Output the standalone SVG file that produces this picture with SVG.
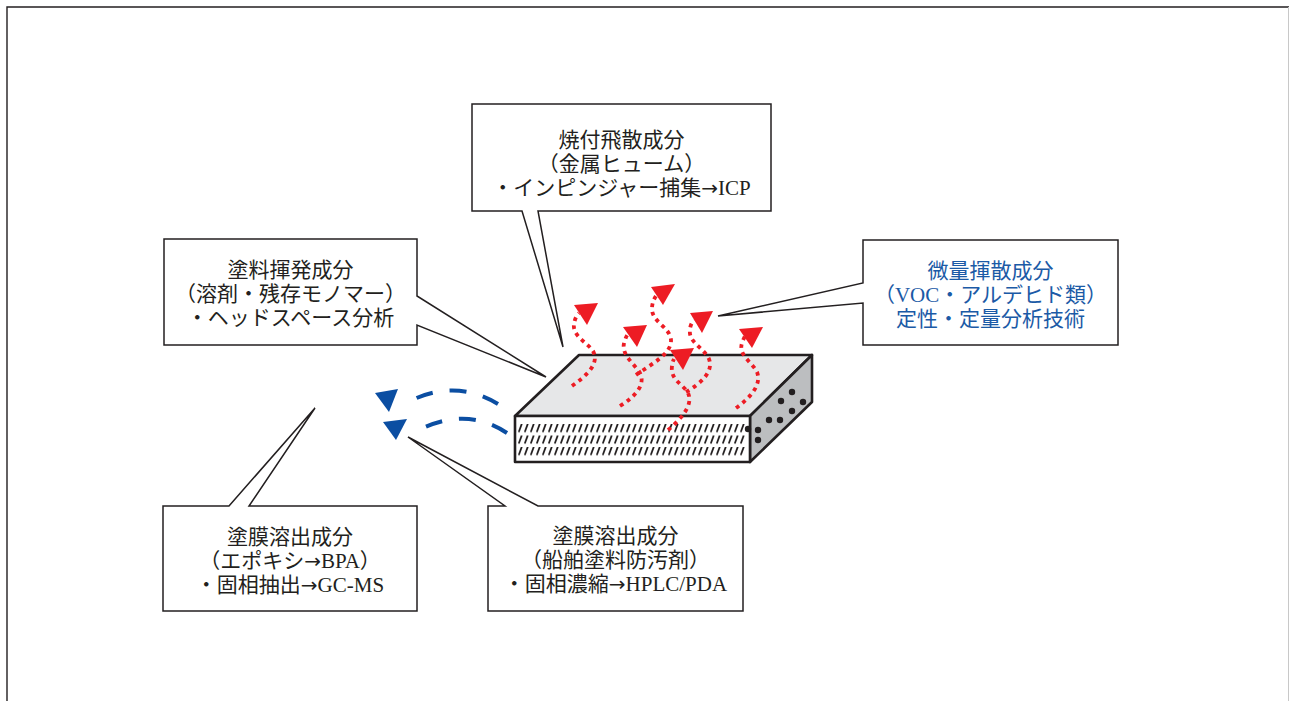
<svg xmlns="http://www.w3.org/2000/svg" width="1291" height="701" viewBox="0 0 1291 701">
  <style>
    .frame { fill: none; stroke: #231f20; stroke-width: 1.4; }
    .callout { fill: #ffffff; stroke: #231f20; stroke-width: 1.5; stroke-linejoin: miter; }
    .label { font-family: "Liberation Serif", "Noto Sans CJK JP", serif; font-size: 21px; fill: #231f20; text-anchor: middle; }
    .label.blue { fill: #1b5aa6; }
    .arrow { font-family: "DejaVu Sans", sans-serif; font-size: 20px; }
    .edge { stroke: #231f20; stroke-width: 2.6; stroke-linejoin: round; }
    .vapor { fill: none; stroke: #ed1c24; stroke-width: 3.8; stroke-dasharray: 3.8 4.4; }
    .vaporhead { fill: #ed1c24; }
    .leach { fill: none; stroke: #0b4ea2; stroke-width: 4; stroke-dasharray: 17 17; }
    .leachhead { fill: #0b4ea2; }
    .dot { fill: #231f20; }
  </style>
  <defs>
    <!-- slanted slots on the front face of the coated panel -->
    <pattern id="slots" patternUnits="userSpaceOnUse" x="518" y="424" width="6" height="11.5">
      <line x1="1" y1="7.4" x2="3.6" y2="0.4" stroke="#231f20" stroke-width="1.8" stroke-linecap="round"/>
    </pattern>
  </defs>

  <!-- page frame -->
  <path class="frame" d="M7,701 V7 H1289"/>
  <line x1="1288.5" y1="7" x2="1288.5" y2="701" stroke="#c8c8c8" stroke-width="1"/>

  <!-- coated panel -->
  <g id="panel">
    <polygon class="edge" fill="#e6e7e8" points="515,416 579,355 812,355 750,416"/>
    <polygon class="edge" fill="#bcbec0" points="750,416 812,355 812,402 750,462"/>
    <rect class="edge" fill="#ffffff" x="515" y="416" width="235" height="46"/>
    <rect x="518" y="424" width="227" height="32" fill="url(#slots)"/>
    <circle class="dot" cx="792" cy="392" r="3.2"/>
    <circle class="dot" cx="781" cy="401" r="3.2"/>
    <circle class="dot" cx="803" cy="402" r="3.2"/>
    <circle class="dot" cx="792" cy="411" r="3.2"/>
    <circle class="dot" cx="769" cy="420" r="3.2"/>
    <circle class="dot" cx="780" cy="420" r="3.2"/>
    <circle class="dot" cx="748" cy="429" r="3.2"/>
    <circle class="dot" cx="758" cy="430" r="3.2"/>
    <circle class="dot" cx="758" cy="440" r="3.2"/>
  </g>

  <!-- emissions from the panel -->
  <g id="connectors">
    <!-- volatile release (red, wavy) -->
    <path class="vapor" d="M572,386 C586,376 600,364 593,351 C588,343 572,336 574,324 C575,318 577,315 579,313"/>
    <polygon class="vaporhead" points="574,305 598,303 587,325"/>
    <path class="vapor" d="M620,406 C636,396 648,383 638,370 C630,360 620,352 625,340 C626,337 627,335 629,333"/>
    <polygon class="vaporhead" points="623,327 647,325 637,347"/>
    <path class="vapor" d="M636,375 C650,365 672,354 671,340 C670,327 652,322 652,309 C652,303 654,299 656,296"/>
    <polygon class="vaporhead" points="651,287 675,284 663,305"/>
    <path class="vapor" d="M686,392 C700,384 714,372 709,359 C704,348 688,342 690,330 C690,326 692,322 694,320"/>
    <polygon class="vaporhead" points="690,313 713,311 702,333"/>
    <path class="vapor" d="M668,430 C680,420 694,405 688,393 C684,385 670,380 672,366 C672,363 673,361 674,359"/>
    <polygon class="vaporhead" points="670,350 694,348 683,370"/>
    <path class="vapor" d="M736,408 C750,398 762,385 757,372 C752,362 738,355 742,343 C743,340 744,338 745,336"/>
    <polygon class="vaporhead" points="739,329 763,327 752,348"/>

    <!-- leaching into water (blue, dashed) -->
    <path class="leach" d="M498,404 Q455,378 408,402"/>
    <polygon class="leachhead" points="375,393 398,389 389,412"/>
    <path class="leach" d="M507,433 Q465,405 415,432"/>
    <polygon class="leachhead" points="383,422 407,419 396,440"/>
  </g>

  <!-- callouts -->
  <g id="baked-fume">
    <path class="callout" d="M472,104 H771 V211 H538 L563,347 L522,211 H472 Z"/>
    <text class="label" x="621.5" y="147">焼付飛散成分</text>
    <text class="label" x="621.5" y="171">（金属ヒューム）</text>
    <text class="label" x="621.5" y="195">・インピンジャー捕集<tspan class="arrow">→</tspan>ICP</text>
  </g>

  <g id="paint-volatiles">
    <path class="callout" d="M164,239 H417 V296 L546,377 L417,325 V345 H164 Z"/>
    <text class="label" x="290.5" y="277">塗料揮発成分</text>
    <text class="label" x="290.5" y="301">（溶剤・残存モノマー）</text>
    <text class="label" x="290.5" y="325">・ヘッドスペース分析</text>
  </g>

  <g id="trace-volatiles">
    <path class="callout" d="M863,240 H1118 V345 H863 V303 L718,316 L863,283 Z"/>
    <text class="label blue" x="990.5" y="278">微量揮散成分</text>
    <text class="label blue" x="990.5" y="302">（VOC・アルデヒド類）</text>
    <text class="label blue" x="990.5" y="326">定性・定量分析技術</text>
  </g>

  <g id="leach-epoxy">
    <path class="callout" d="M163,506 H229 L315,408 L249,506 H417 V611 H163 Z"/>
    <text class="label" x="290" y="544">塗膜溶出成分</text>
    <text class="label" x="290" y="568">（エポキシ<tspan class="arrow">→</tspan>BPA）</text>
    <text class="label" x="290" y="592">・固相抽出<tspan class="arrow">→</tspan>GC-MS</text>
  </g>

  <g id="leach-antifouling">
    <path class="callout" d="M488,506 H505 L408,437 L538,506 H743 V611 H488 Z"/>
    <text class="label" x="615.5" y="543">塗膜溶出成分</text>
    <text class="label" x="615.5" y="567">（船舶塗料防汚剤）</text>
    <text class="label" x="615.5" y="591">・固相濃縮<tspan class="arrow">→</tspan>HPLC/PDA</text>
  </g>
</svg>
